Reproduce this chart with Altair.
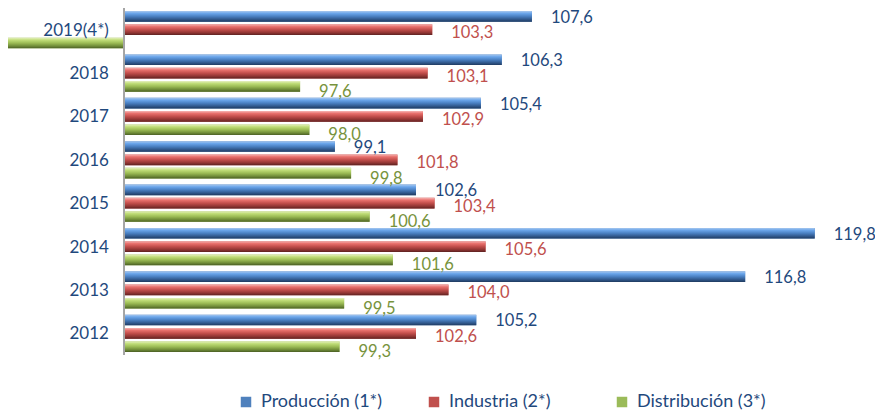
import altair as alt
import pandas as pd

years = ["2019(4*)", "2018", "2017", "2016", "2015", "2014", "2013", "2012"]
series = ["Producción (1*)", "Industria (2*)", "Distribución (3*)"]
produccion = [107.6, 106.3, 105.4, 99.1, 102.6, 119.8, 116.8, 105.2]
industria = [103.3, 103.1, 102.9, 101.8, 103.4, 105.6, 104.0, 102.6]
distribucion = [0.0, 97.6, 98.0, 99.8, 100.6, 101.6, 99.5, 99.3]

base_colors = ["#4F81BD", "#C0504D", "#9BBB59"]
label_colors = ["#1F497D", "#C0504D", "#77933C"]
label_dy = [1.5, 3.5, 5.5]
grad_stops = [
    ["#A9C8EE", "#6AA5EA", "#4A80C2", "#2F5689", "#1F3A5F"],
    ["#F6B3B1", "#E8706C", "#C24E4B", "#8E3432", "#5E2221"],
    ["#E6F0C0", "#C0DD78", "#9CBC55", "#6E8A37", "#4A5E24"],
]

rows = []
for s, vals in zip(series, [produccion, industria, distribucion]):
    for y, v in zip(years, vals):
        rows.append({"year": y, "serie": s, "v": v})
df = pd.DataFrame(rows)
cat_df = pd.DataFrame({"year": years})

W, H = 867, 347
FONT = "Lato"
x_scale = alt.Scale(domain=[85, 122.4], nice=False, zero=False)
y_enc = alt.Y("year:N", sort=years,
              scale=alt.Scale(domain=years, paddingInner=0.14, paddingOuter=0.07),
              axis=None)
yoff = alt.YOffset("serie:N", scale=alt.Scale(domain=series, paddingInner=0.2))

base = alt.Chart(df)

bars = base.mark_bar(clip=True).encode(
    x=alt.X("v:Q", scale=x_scale, axis=None),
    x2=alt.datum(90),
    y=y_enc,
    yOffset=yoff,
    color=alt.Color("serie:N", scale=alt.Scale(domain=series, range=base_colors),
                    legend=alt.Legend(orient="none", legendX=229, legendY=385,
                                      direction="horizontal", title=None,
                                      symbolType="square", symbolSize=110,
                                      symbolStrokeWidth=0, gridAlign="all",
                                      labelFont=FONT, labelFontSize=18,
                                      labelColor="#1F497D", columnPadding=35,
                                      labelOffset=6)),
)

layers = [bars]
for s, stops, lc, ddy in zip(series, grad_stops, label_colors, label_dy):
    g = alt.Gradient(gradient="linear",
                     stops=[alt.GradientStop(color=stops[0], offset=0),
                            alt.GradientStop(color=stops[1], offset=0.22),
                            alt.GradientStop(color=stops[2], offset=0.5),
                            alt.GradientStop(color=stops[3], offset=0.8),
                            alt.GradientStop(color=stops[4], offset=1)],
                     x1=0, x2=0, y1=0, y2=1)
    sub = base.transform_filter(alt.datum.serie == s)
    layers.append(
        sub.mark_bar(clip=True, fill=g).encode(
            x=alt.X("v:Q", scale=x_scale, axis=None),
            x2=alt.datum(90),
            y=y_enc,
            yOffset=yoff,
        )
    )
    layers.append(
        sub.transform_filter(alt.datum.v >= 90).transform_calculate(
            lbl="replace(format(datum.v, '.1f'), '.', ',')"
        ).mark_text(align="left", baseline="middle", dx=19, dy=ddy, font=FONT,
                    fontSize=16.5, color=lc).encode(
            x=alt.X("v:Q", scale=x_scale, axis=None),
            y=y_enc,
            yOffset=yoff,
            text="lbl:N",
        )
    )

axis_line = alt.Chart(cat_df).mark_rule(color="#A6A6A6", strokeWidth=1.5).encode(
    x=alt.datum(90), y=alt.value(0), y2=alt.value(H)
)

cats = alt.Chart(cat_df).mark_text(align="right", baseline="middle", dx=-15, dy=1,
                                   font=FONT, fontSize=17, color="#1F497D").encode(
    x=alt.datum(90),
    y=y_enc,
    text="year:N",
)

chart = alt.layer(*layers, axis_line, cats).properties(
    width=W, height=H,
    padding={"left": 0, "top": 0, "right": 0, "bottom": 56},
    autosize=alt.AutoSizeParams(type="none"),
).configure_view(stroke=None)

chart.save("out.html", embed_options={"renderer": "svg", "actions": False})
